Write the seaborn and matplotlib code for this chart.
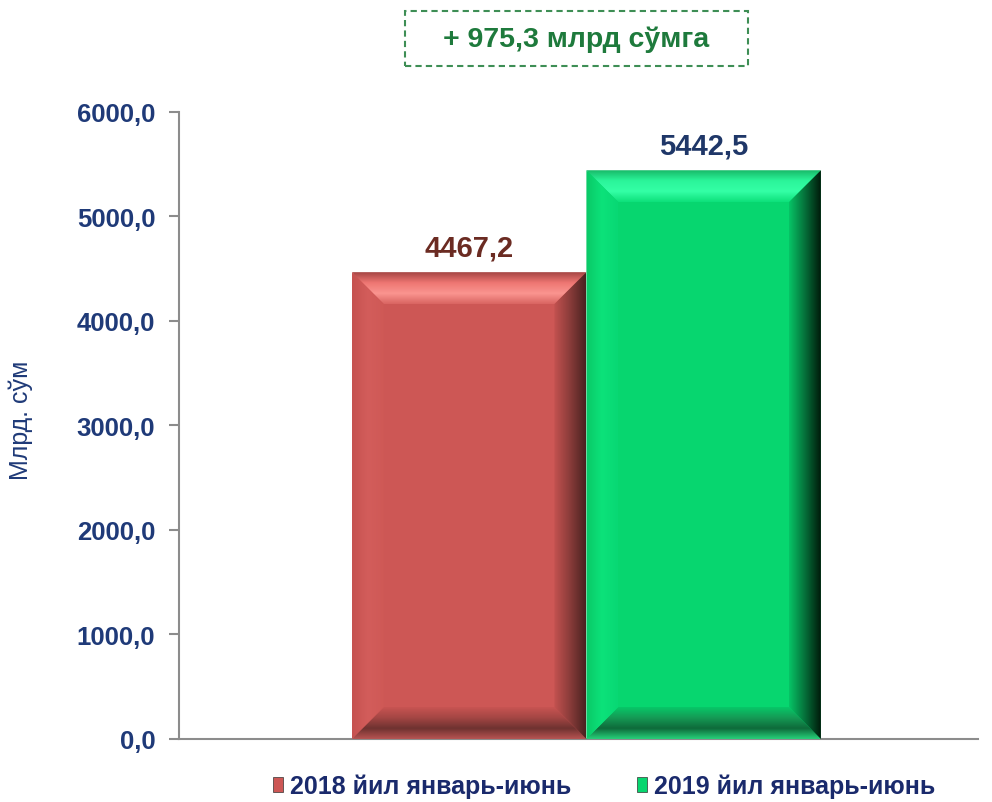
import numpy as np
import pandas as pd
import matplotlib
matplotlib.use('Agg')
import matplotlib.pyplot as plt
from matplotlib.colors import LinearSegmentedColormap
from matplotlib.patches import Polygon, Rectangle
from matplotlib.ticker import FuncFormatter
import seaborn as sns

periods = ['2018 йил январь-июнь', '2019 йил январь-июнь']
values = [4467.2, 5442.5]
bar_colors = ['#CD5755', '#07D66F']
label_colors = ['#6B2B22', '#1F3768']
yticks = [0, 1000, 2000, 3000, 4000, 5000, 6000]
title_text = '+ 975,3 млрд сўмга'
ylabel_text = 'Млрд. сўм'

# bevel gradients (outer edge -> inner edge) for top, left, right, bottom
bevels = [
    {'top': ['#A54543', '#EE7672', '#FA9590', '#D96461'],
     'left': ['#C55250', '#D35D5B', '#CF5956'],
     'right': ['#4A2220', '#8A3C3A', '#C45250'],
     'bottom': ['#B85452', '#6E3230', '#A44644', '#C85452']},
    {'top': ['#18B968', '#2BF59A', '#34FFA6', '#0DE07A'],
     'left': ['#0AC866', '#0CE27A', '#08D874'],
     'right': ['#001A0A', '#05703A', '#07C466'],
     'bottom': ['#27D27A', '#0E6A3A', '#159A55', '#07C868']},
]

df = pd.DataFrame({'group': [''] * len(periods), 'period': periods, 'value': values})

sns.set_style('white')
plt.rcParams['font.family'] = ['Liberation Sans', 'DejaVu Sans']

fig = plt.figure(figsize=(9.92, 8.03), dpi=100)
ax_pos = [0.1804, 0.0785, 0.8055, 0.7808]
ax = fig.add_axes(ax_pos)

sns.barplot(data=df, x='group', y='value', hue='period', palette=bar_colors,
            width=0.8, saturation=1, legend=False, ax=ax)

XLIM = (-0.695, 0.668)
YLIM = (0, 6000)
ax.set_xlim(*XLIM)
ax.set_ylim(*YLIM)

# fake 3D bevel on each bar
bev_px = 32
dx = bev_px * (XLIM[1] - XLIM[0]) / (ax_pos[2] * 992)
dy = bev_px * (YLIM[1] - YLIM[0]) / (ax_pos[3] * 803)


def grad(ax, pts, extent, cols, vertical, reverse):
    g = np.linspace(0, 1, 256)
    if reverse:
        g = g[::-1]
    arr = g.reshape(-1, 1) if vertical else g.reshape(1, -1)
    cmap = LinearSegmentedColormap.from_list('b', cols)
    im = ax.imshow(arr, cmap=cmap, extent=extent, origin='lower',
                   aspect='auto', zorder=3, interpolation='bilinear')
    poly = Polygon(pts, closed=True, transform=ax.transData)
    im.set_clip_path(poly)


for patch, bev in zip(ax.patches, bevels):
    x0, y0 = patch.get_x(), patch.get_y()
    x1, y1 = x0 + patch.get_width(), y0 + patch.get_height()
    grad(ax, [(x0, y1), (x1, y1), (x1 - dx, y1 - dy), (x0 + dx, y1 - dy)],
         (x0, x1, y1 - dy, y1), bev['top'], True, True)
    grad(ax, [(x0, y0), (x1, y0), (x1 - dx, y0 + dy), (x0 + dx, y0 + dy)],
         (x0, x1, y0, y0 + dy), bev['bottom'], True, False)
    grad(ax, [(x0, y0), (x0, y1), (x0 + dx, y1 - dy), (x0 + dx, y0 + dy)],
         (x0, x0 + dx, y0, y1), bev['left'], False, False)
    grad(ax, [(x1, y0), (x1, y1), (x1 - dx, y1 - dy), (x1 - dx, y0 + dy)],
         (x1 - dx, x1, y0, y1), bev['right'], False, True)

ax.set_xlim(*XLIM)
ax.set_ylim(*YLIM)

for cont, col in zip(ax.containers, label_colors):
    ax.bar_label(cont, labels=[f'{v:.1f}'.replace('.', ',') for v in cont.datavalues],
                 padding=8, fontsize=21, fontweight='bold', color=col)

# axes styling
for s in ['top', 'right']:
    ax.spines[s].set_visible(False)
for s in ['left', 'bottom']:
    ax.spines[s].set_color('#8C8C8C')
    ax.spines[s].set_linewidth(1.5)
ax.set_xticks([])
ax.set_xlabel('')
ax.set_yticks(yticks)
ax.yaxis.set_major_formatter(FuncFormatter(lambda v, p: f'{v:.1f}'.replace('.', ',')))
ax.tick_params(axis='y', length=7, width=1.5, color='#8C8C8C', direction='out',
               pad=10, labelsize=18.5, labelcolor='#1F3A78', left=True)
for lbl in ax.get_yticklabels():
    lbl.set_fontweight('bold')
ax.set_ylabel(ylabel_text, fontsize=18, color='#1F3A78')
ax.yaxis.set_label_coords(-0.183, 0.51)

# headline box
fig.patches.append(Rectangle((405 / 992, 1 - 67 / 803), 343 / 992, 55 / 803,
                             transform=fig.transFigure, fill=False,
                             edgecolor='#3E8E55', linestyle=(0, (3, 2)), lw=1.5))
fig.text(576 / 992, 1 - 40 / 803, title_text, ha='center', va='center',
         fontsize=20.5, fontweight='bold', color='#1E7A3C')

# legend
handles = [Rectangle((0, 0), 1, 1, facecolor=c, edgecolor='#333333', lw=0.5) for c in bar_colors]
leg = fig.legend(handles, periods, loc='center', bbox_to_anchor=(604 / 992, 1 - 787 / 803),
                 ncol=2, frameon=False, handlelength=0.4, handleheight=0.55,
                 handletextpad=0.3, columnspacing=2.6,
                 prop={'family': ['Liberation Sans Narrow', 'Liberation Sans'],
                       'weight': 'bold', 'size': 18})
for t in leg.get_texts():
    t.set_color('#1A2A6C')

fig.savefig('out.png', dpi=100)
